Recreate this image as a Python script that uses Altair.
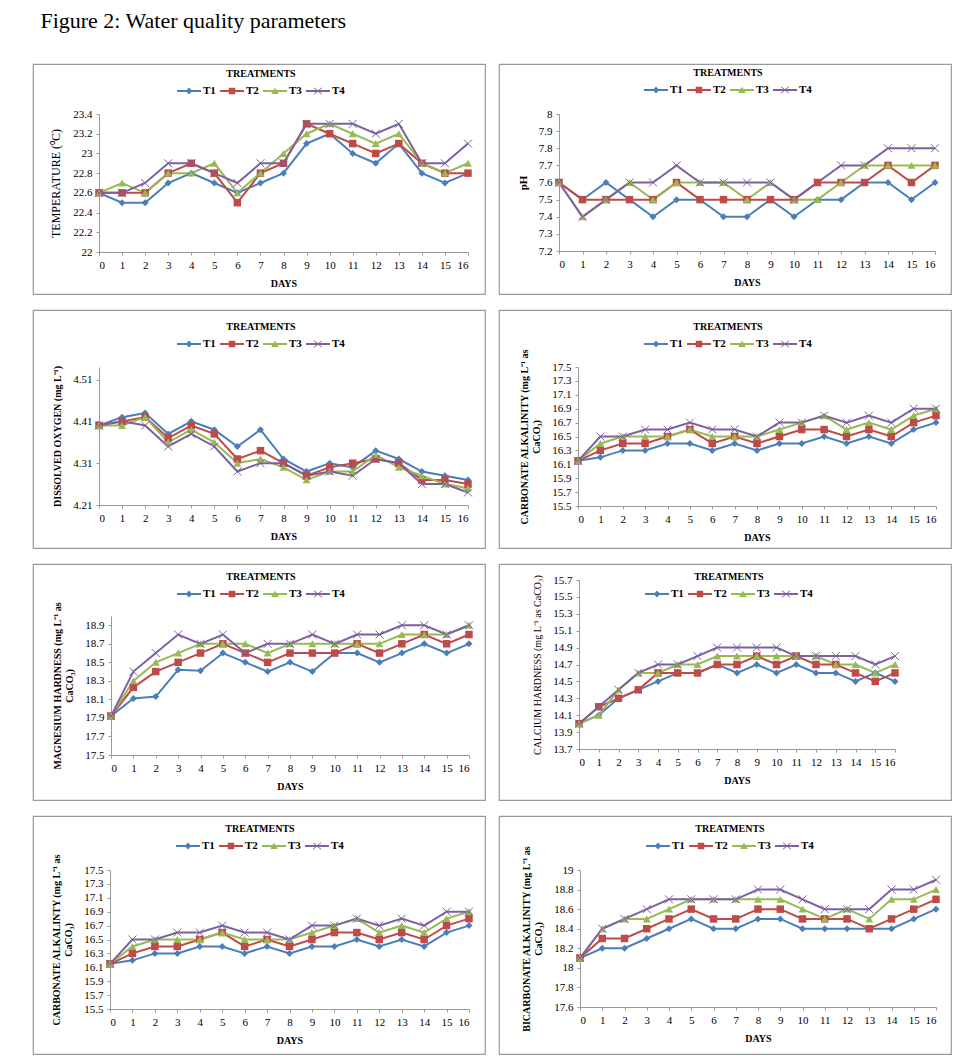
import altair as alt
import pandas as pd

DAYS = list(range(17))
TREATMENTS = ["T1", "T2", "T3", "T4"]
COLORS = ["#4A7EBB", "#BE4B48", "#98B954", "#7D60A0"]

# Temperature (deg C)
TEMP_T1 = [22.6, 22.5, 22.5, 22.7, 22.8, 22.7, 22.6, 22.7, 22.8, 23.1, 23.2, 23.0, 22.9, 23.1, 22.8, 22.7, 22.8]
TEMP_T2 = [22.6, 22.6, 22.6, 22.8, 22.9, 22.8, 22.5, 22.8, 22.9, 23.3, 23.2, 23.1, 23.0, 23.1, 22.9, 22.8, 22.8]
TEMP_T3 = [22.6, 22.7, 22.6, 22.8, 22.8, 22.9, 22.6, 22.8, 23.0, 23.2, 23.3, 23.2, 23.1, 23.2, 22.9, 22.8, 22.9]
TEMP_T4 = [22.6, 22.6, 22.7, 22.9, 22.9, 22.8, 22.7, 22.9, 22.9, 23.3, 23.3, 23.3, 23.2, 23.3, 22.9, 22.9, 23.1]
TEMP_TICKS = [22, 22.2, 22.4, 22.6, 22.8, 23, 23.2, 23.4]

# pH
PH_T1 = [7.6, 7.5, 7.6, 7.5, 7.4, 7.5, 7.5, 7.4, 7.4, 7.5, 7.4, 7.5, 7.5, 7.6, 7.6, 7.5, 7.6]
PH_T2 = [7.6, 7.5, 7.5, 7.5, 7.5, 7.6, 7.5, 7.5, 7.5, 7.5, 7.5, 7.6, 7.6, 7.6, 7.7, 7.6, 7.7]
PH_T3 = [7.6, 7.4, 7.5, 7.6, 7.5, 7.6, 7.6, 7.6, 7.5, 7.6, 7.5, 7.5, 7.6, 7.7, 7.7, 7.7, 7.7]
PH_T4 = [7.6, 7.4, 7.5, 7.6, 7.6, 7.7, 7.6, 7.6, 7.6, 7.6, 7.5, 7.6, 7.7, 7.7, 7.8, 7.8, 7.8]
PH_TICKS = [7.2, 7.3, 7.4, 7.5, 7.6, 7.7, 7.8, 7.9, 8.0]

# Dissolved oxygen (mg/L)
DO_T1 = [4.40, 4.42, 4.43, 4.38, 4.41, 4.39, 4.35, 4.39, 4.32, 4.29, 4.31, 4.30, 4.34, 4.32, 4.29, 4.28, 4.27]
DO_T2 = [4.40, 4.41, 4.42, 4.37, 4.40, 4.38, 4.32, 4.34, 4.31, 4.28, 4.30, 4.31, 4.32, 4.31, 4.27, 4.27, 4.26]
DO_T3 = [4.40, 4.40, 4.42, 4.36, 4.39, 4.36, 4.31, 4.32, 4.30, 4.27, 4.29, 4.29, 4.33, 4.30, 4.28, 4.26, 4.25]
DO_T4 = [4.40, 4.41, 4.40, 4.35, 4.38, 4.35, 4.29, 4.31, 4.31, 4.28, 4.29, 4.28, 4.32, 4.31, 4.26, 4.26, 4.24]
DO_TICKS = [4.21, 4.31, 4.41, 4.51]

# Carbonate alkalinity (mg/L as CaCO3)
CA_T1 = [16.15, 16.2, 16.3, 16.3, 16.4, 16.4, 16.3, 16.4, 16.3, 16.4, 16.4, 16.5, 16.4, 16.5, 16.4, 16.6, 16.7]
CA_T2 = [16.15, 16.3, 16.4, 16.4, 16.5, 16.6, 16.4, 16.5, 16.4, 16.5, 16.6, 16.6, 16.5, 16.6, 16.5, 16.7, 16.8]
CA_T3 = [16.15, 16.4, 16.5, 16.5, 16.5, 16.6, 16.5, 16.5, 16.5, 16.6, 16.7, 16.8, 16.6, 16.7, 16.6, 16.8, 16.9]
CA_T4 = [16.15, 16.5, 16.5, 16.6, 16.6, 16.7, 16.6, 16.6, 16.5, 16.7, 16.7, 16.8, 16.7, 16.8, 16.7, 16.9, 16.9]
CA_TICKS = [15.5, 15.7, 15.9, 16.1, 16.3, 16.5, 16.7, 16.9, 17.1, 17.3, 17.5]

# Magnesium hardness
MG_T1 = [17.92, 18.11, 18.13, 18.42, 18.41, 18.6, 18.5, 18.4, 18.5, 18.4, 18.6, 18.6, 18.5, 18.6, 18.7, 18.6, 18.7]
MG_T2 = [17.92, 18.23, 18.4, 18.5, 18.6, 18.7, 18.6, 18.5, 18.6, 18.6, 18.6, 18.7, 18.6, 18.7, 18.8, 18.7, 18.8]
MG_T3 = [17.92, 18.3, 18.5, 18.6, 18.7, 18.7, 18.7, 18.6, 18.7, 18.7, 18.7, 18.7, 18.7, 18.8, 18.8, 18.8, 18.9]
MG_T4 = [17.92, 18.4, 18.6, 18.8, 18.7, 18.8, 18.6, 18.7, 18.7, 18.8, 18.7, 18.8, 18.8, 18.9, 18.9, 18.8, 18.9]
MG_TICKS = [17.5, 17.7, 17.9, 18.1, 18.3, 18.5, 18.7, 18.9]

# Calcium hardness
CAH_T1 = [14.0, 14.1, 14.3, 14.4, 14.5, 14.6, 14.6, 14.7, 14.6, 14.7, 14.6, 14.7, 14.6, 14.6, 14.5, 14.6, 14.5]
CAH_T2 = [14.0, 14.2, 14.3, 14.4, 14.6, 14.6, 14.6, 14.7, 14.7, 14.8, 14.7, 14.8, 14.7, 14.7, 14.6, 14.5, 14.6]
CAH_T3 = [14.0, 14.1, 14.4, 14.6, 14.6, 14.7, 14.7, 14.8, 14.8, 14.8, 14.8, 14.8, 14.8, 14.7, 14.7, 14.6, 14.7]
CAH_T4 = [14.0, 14.2, 14.4, 14.6, 14.7, 14.7, 14.8, 14.9, 14.9, 14.9, 14.9, 14.8, 14.8, 14.8, 14.8, 14.7, 14.8]
CAH_TICKS = [13.7, 13.9, 14.1, 14.3, 14.5, 14.7, 14.9, 15.1, 15.3, 15.5, 15.7]

# Bicarbonate alkalinity
BI_T1 = [18.1, 18.2, 18.2, 18.3, 18.4, 18.5, 18.4, 18.4, 18.5, 18.5, 18.4, 18.4, 18.4, 18.4, 18.4, 18.5, 18.6]
BI_T2 = [18.1, 18.3, 18.3, 18.4, 18.5, 18.6, 18.5, 18.5, 18.6, 18.6, 18.5, 18.5, 18.5, 18.4, 18.5, 18.6, 18.7]
BI_T3 = [18.1, 18.4, 18.5, 18.5, 18.6, 18.7, 18.7, 18.7, 18.7, 18.7, 18.6, 18.5, 18.6, 18.5, 18.7, 18.7, 18.8]
BI_T4 = [18.1, 18.4, 18.5, 18.6, 18.7, 18.7, 18.7, 18.7, 18.8, 18.8, 18.7, 18.6, 18.6, 18.6, 18.8, 18.8, 18.9]
BI_TICKS = [17.6, 17.8, 18.0, 18.2, 18.4, 18.6, 18.8, 19.0]

FONT = "Liberation Serif"

# legend symbols: line + marker (filled polygons, unit coords)
LINE_P = "M-1,-0.09L1,-0.09L1,0.09L-1,0.09Z"
LEG_PATHS = [
    LINE_P + "M0,-0.3L0.27,0L0,0.3L-0.27,0Z",
    LINE_P + "M-0.27,-0.27L0.27,-0.27L0.27,0.27L-0.27,0.27Z",
    LINE_P + "M0,-0.28L0.32,0.25L-0.32,0.25Z",
    LINE_P + "M-0.35,-0.25L-0.3,-0.3L0.35,0.25L0.3,0.3Z"
    + "M0.35,-0.25L-0.3,0.3L-0.35,0.25L0.3,-0.3Z",
]
X_PATH = "M-1,-1L1,1M-1,1L1,-1"
PT_STYLE = [
    dict(shape="diamond", filled=True, size=49),
    dict(shape="square", filled=True, size=56),
    dict(shape="triangle-up", filled=True, size=64),
    dict(shape=X_PATH, filled=False, size=64, strokeWidth=1),
]

W = 452


def long_df(series):
    rows = []
    for t, vals in zip(TREATMENTS, series):
        for d, v in zip(DAYS, vals):
            rows.append({"day": d, "T": t, "value": v})
    return pd.DataFrame(rows)


def panel(series, ytitle, ydomain, yticks, yfmt, H, L, R, T, B, cx, ty, tbold=True, tsize=10):
    df = long_df(series)
    cscale = alt.Scale(domain=TREATMENTS, range=COLORS)
    x = alt.X("day:Q",
              scale=alt.Scale(domain=[0, 16], range=[L, R], nice=False, zero=False),
              axis=alt.Axis(values=DAYS, format="d", title="DAYS", offset=-(H - B),
                            labelAngle=0, titlePadding=8))
    y = alt.Y("value:Q",
              scale=alt.Scale(domain=ydomain, range=[B, T], nice=False, zero=False),
              axis=alt.Axis(values=yticks, format=yfmt, title=ytitle, offset=-L,
                            titlePadding=10, titleFontSize=tsize,
                            titleFontWeight="bold" if tbold else "normal"))
    leg = alt.Legend(title="TREATMENTS", orient="none", direction="horizontal",
                     legendX=cx - 82, legendY=ty - 6, titleAnchor="middle",
                     titleOrient="top", symbolSize=576, symbolStrokeWidth=0,
                     labelOffset=2, columnPadding=4, titlePadding=0)
    base = alt.Chart(df).encode(x=x, y=y)
    lines = base.mark_line(strokeWidth=2).encode(
        color=alt.Color("T:N", scale=cscale, legend=leg))
    layers = [lines]
    for t, c, st in zip(TREATMENTS, COLORS, PT_STYLE):
        layers.append(base.transform_filter(alt.datum.T == t)
                      .mark_point(color=c, opacity=1, **st))
    # legend carrier: drawn far outside the clipped view, only its legend is seen
    carrier = base.mark_point(filled=True, opacity=1, clip=True, yOffset=-3000).encode(
        color=alt.Color("T:N", scale=cscale, legend=leg),
        shape=alt.Shape("T:N", scale=alt.Scale(domain=TREATMENTS, range=LEG_PATHS), legend=leg),
    )
    layers.append(carrier)
    return alt.layer(*layers).properties(width=W, height=H)


H1, H2, H3, H4 = 230, 238, 236, 238

p1 = panel([TEMP_T1, TEMP_T2, TEMP_T3, TEMP_T4], "TEMPERATURE (\u2070C)", [22, 23.4], TEMP_TICKS,
           ".1~f", H1, 66, 435, 50, 188, 226, 11, tbold=False, tsize=12)
p2 = panel([PH_T1, PH_T2, PH_T3, PH_T4], "pH", [7.2, 8.0], PH_TICKS,
           ".1~f", H1, 60, 436, 50, 187, 227, 10, tsize=11)
p3 = panel([DO_T1, DO_T2, DO_T3, DO_T4], "DISSOLVED OXYGEN (mg L\u207b\u00b9)", [4.21, 4.54], DO_TICKS,
           ".2f", H2, 66, 435, 57, 195, 226, 18)
p4 = panel([CA_T1, CA_T2, CA_T3, CA_T4], ["CARBONATE ALKALINITY (mg L\u207b\u00b9 as", "CaCO\u2083)"],
           [15.5, 17.5], CA_TICKS, ".1f", H2, 79, 437, 57, 196, 227, 18)
p5 = panel([MG_T1, MG_T2, MG_T3, MG_T4], ["MAGNESIUM HARDNESS (mg L\u207b\u00b9 as", "CaCO\u2083)"],
           [17.5, 19.0], MG_TICKS, ".1f", H3, 78, 436, 52, 191, 226, 14)
p6 = panel([CAH_T1, CAH_T2, CAH_T3, CAH_T4], "CALCIUM HARDNESS (mg L\u207b\u00b9 as CaCO\u2083)",
           [13.7, 15.7], CAH_TICKS, ".1f", H3, 80, 396, 16, 185, 228, 14, tbold=False)
p7 = panel([CA_T1, CA_T2, CA_T3, CA_T4], ["CARBONATE ALKALINTY (mg L\u207b\u00b9 as", "CaCO\u2083)"],
           [15.5, 17.5], CA_TICKS, ".1f", H4, 77, 436, 54, 193, 225, 14)
p8 = panel([BI_T1, BI_T2, BI_T3, BI_T4], ["BICARBONATE ALKALINITY (mg L\u207b\u00b9 as", "CaCO\u2083)"],
           [17.6, 19.0], BI_TICKS, ".1~f", H4, 81, 437, 54, 191, 229, 14)

rows = [alt.hconcat(a, b, spacing=12).resolve_scale(color="independent", shape="independent")
        .resolve_legend(color="independent", shape="independent")
        for a, b in [(p1, p2), (p3, p4), (p5, p6), (p7, p8)]]

chart = alt.vconcat(*rows, spacing=14).resolve_scale(
    color="independent", shape="independent"
).resolve_legend(
    color="independent", shape="independent"
).properties(
    title=alt.TitleParams("Figure 2: Water quality parameters", anchor="start", font=FONT,
                          fontSize=22, fontWeight="normal", color="black", dx=8, offset=30),
    padding={"left": 24, "top": 2, "right": 0, "bottom": 0},
).configure_view(
    stroke="#9a9a9a", strokeWidth=1.2
).configure_axis(
    domainColor="#9a9a9a", tickColor="#9a9a9a", grid=False, tickSize=3,
    labelFont=FONT, labelFontSize=11, labelColor="black", labelPadding=4,
    titleFont=FONT, titleFontSize=10, titleColor="black", titleFontWeight="bold",
).configure_legend(
    labelFont=FONT, labelFontSize=11, labelFontWeight="bold", labelColor="black",
    titleFont=FONT, titleFontSize=10, titleFontWeight="bold", titleColor="black",
)

chart.save("out.html", embed_options={"renderer": "svg", "actions": False})
